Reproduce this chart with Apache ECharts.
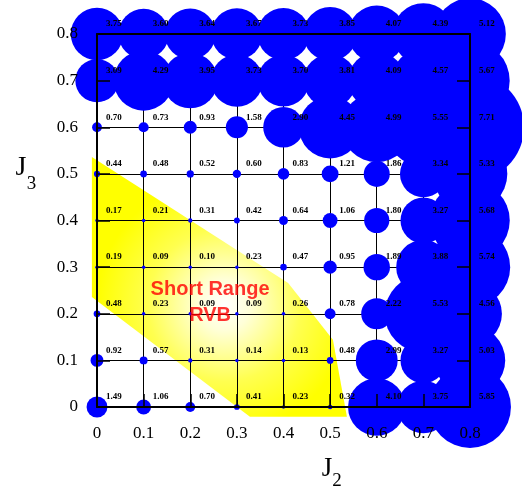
<!DOCTYPE html>
<html><head><meta charset="utf-8">
<script src="https://cdn.jsdelivr.net/npm/echarts@6/dist/echarts.min.js"></script>
<style>html,body{margin:0;padding:0;background:#fff}#chart{width:522px;height:493px}</style>
</head><body><div id="chart"></div>
<script>
// axis ticks
const j2Ticks = [0, 0.1, 0.2, 0.3, 0.4, 0.5, 0.6, 0.7, 0.8];
const j3Ticks = [0, 0.1, 0.2, 0.3, 0.4, 0.5, 0.6, 0.7, 0.8];
// values per J3 row (columns follow j2Ticks)
const gapJ3_00 = [1.49, 1.06, 0.70, 0.41, 0.23, 0.32, 4.10, 3.75, 5.85];
const gapJ3_01 = [0.92, 0.57, 0.31, 0.14, 0.13, 0.48, 2.99, 3.27, 5.03];
const gapJ3_02 = [0.48, 0.23, 0.09, 0.09, 0.26, 0.78, 2.22, 5.53, 4.56];
const gapJ3_03 = [0.19, 0.09, 0.10, 0.23, 0.47, 0.95, 1.89, 3.88, 5.74];
const gapJ3_04 = [0.17, 0.21, 0.31, 0.42, 0.64, 1.06, 1.80, 3.27, 5.68];
const gapJ3_05 = [0.44, 0.48, 0.52, 0.60, 0.83, 1.21, 1.86, 3.34, 5.33];
const gapJ3_06 = [0.70, 0.73, 0.93, 1.58, 2.90, 4.45, 4.99, 5.55, 7.71];
const gapJ3_07 = [3.09, 4.29, 3.95, 3.73, 3.70, 3.81, 4.09, 4.57, 5.67];
const gapJ3_08 = [3.75, 3.60, 3.64, 3.67, 3.73, 3.85, 4.07, 4.39, 5.12];
// short-range RVB region outline (J2, J3)
const rvbRegionJ2 = [-0.011, 0.410, 0.506, 0.536, 0.328, -0.011];
const rvbRegionJ3 = [0.536, 0.266, 0.144, -0.021, -0.021, 0.236];
const rvbLabelLines = ['Short Range', 'RVB'];
const rvbLabelPos = [0.2425, 0.225];

const rows = [gapJ3_00, gapJ3_01, gapJ3_02, gapJ3_03, gapJ3_04, gapJ3_05, gapJ3_06, gapJ3_07, gapJ3_08];
const bubbleData = [];
rows.forEach((row, r) => row.forEach((v, c) => bubbleData.push([j2Ticks[c], j3Ticks[r], v])));
const regionData = rvbRegionJ2.map((x, i) => [x, rvbRegionJ3[i]]);

const serif = '"Liberation Serif", "Times New Roman", serif';
const tickFmt = v => (Math.abs(v) < 1e-9 ? '0' : v.toFixed(1));
const baseAxis = { type: 'value', min: 0, max: 0.8, interval: 0.1 };
const labelStyle = { fontFamily: serif, fontSize: 17, color: '#000' };
const frameLine = { show: true, onZero: false, lineStyle: { color: '#000', width: 2 } };

const chart = echarts.init(document.getElementById('chart'));
chart.setOption({
  animation: false,
  backgroundColor: '#fff',
  grid: [
    { left: 97, top: 34, width: 373, height: 373 },
    { left: 97, top: 34, width: 373, height: 373 }
  ],
  xAxis: [
    Object.assign({}, baseAxis, { gridIndex: 0, position: 'bottom', z: 10, axisLine: frameLine,
      axisTick: { show: true, inside: true, length: 13, lineStyle: { color: '#000', width: 1.5 } },
      axisLabel: Object.assign({ margin: 18, formatter: tickFmt }, labelStyle), splitLine: { show: false } }),
    Object.assign({}, baseAxis, { gridIndex: 0, position: 'top', z: 10, axisLine: frameLine,
      axisTick: { show: false }, axisLabel: { show: false }, splitLine: { show: false } }),
    Object.assign({}, baseAxis, { gridIndex: 1, position: 'bottom', z: 1, axisLine: { show: false },
      axisTick: { show: false }, axisLabel: { show: false },
      splitLine: { show: true, lineStyle: { color: '#000', width: 1 } } })
  ],
  yAxis: [
    Object.assign({}, baseAxis, { gridIndex: 0, position: 'left', z: 10, axisLine: frameLine,
      axisTick: { show: true, inside: true, length: 13, lineStyle: { color: '#000', width: 1.5 } },
      axisLabel: Object.assign({ margin: 19, formatter: tickFmt }, labelStyle), splitLine: { show: false } }),
    Object.assign({}, baseAxis, { gridIndex: 0, position: 'right', z: 10, axisLine: frameLine,
      axisTick: { show: true, inside: true, length: 13, lineStyle: { color: '#000', width: 1.5 } },
      axisLabel: { show: false }, splitLine: { show: false } }),
    Object.assign({}, baseAxis, { gridIndex: 1, position: 'left', z: 1, axisLine: { show: false },
      axisTick: { show: false }, axisLabel: { show: false },
      splitLine: { show: true, lineStyle: { color: '#000', width: 1 } } })
  ],
  graphic: [
    { type: 'text', x: 327, y: 469, z: 20, style: { text: 'J', font: '27px ' + serif, fill: '#000', align: 'center', verticalAlign: 'middle' } },
    { type: 'text', x: 337, y: 481, z: 20, style: { text: '2', font: '19px ' + serif, fill: '#000', align: 'center', verticalAlign: 'middle' } },
    { type: 'text', x: 21, y: 168, z: 20, style: { text: 'J', font: '28px ' + serif, fill: '#000', align: 'center', verticalAlign: 'middle' } },
    { type: 'text', x: 31.5, y: 184, z: 20, style: { text: '3', font: '19px ' + serif, fill: '#000', align: 'center', verticalAlign: 'middle' } }
  ],
  series: [
    {
      type: 'custom', xAxisIndex: 0, yAxisIndex: 0, z: 0, clip: false, silent: true,
      data: regionData,
      renderItem: function (params, api) {
        if (params.dataIndex !== 0) return null;
        const pts = regionData.map(p => api.coord(p));
        return {
          type: 'polygon', shape: { points: pts },
          style: {
            fill: new echarts.graphic.RadialGradient(0.52, 0.57, 0.5, [
              { offset: 0, color: '#ffffff' },
              { offset: 0.2, color: '#ffffd8' },
              { offset: 0.6, color: '#ffff50' },
              { offset: 1, color: '#ffff00' }
            ]),
            stroke: null
          }
        };
      }
    },
    {
      type: 'scatter', xAxisIndex: 0, yAxisIndex: 0, z: 2, clip: false, silent: true,
      data: bubbleData,
      symbol: 'circle',
      symbolSize: d => Math.max(d[2] * 14, 3.5),
      itemStyle: { color: '#0000ff', opacity: 1 },
      label: {
        show: true, position: 'inside', align: 'left', verticalAlign: 'middle', offset: [9, -10],
        formatter: p => p.value[2].toFixed(2),
        fontFamily: serif, fontWeight: 'bold', fontSize: 9, color: '#000'
      }
    },
    {
      type: 'scatter', xAxisIndex: 0, yAxisIndex: 0, z: 3, silent: true,
      data: [rvbLabelPos], symbolSize: 0,
      label: {
        show: true, position: 'inside', formatter: rvbLabelLines.join('\n'),
        fontFamily: '"Liberation Sans", Arial, sans-serif', fontWeight: 'bold', fontSize: 20,
        lineHeight: 26, color: '#ff0000', align: 'center', verticalAlign: 'middle'
      }
    }
  ]
});
</script></body></html>
